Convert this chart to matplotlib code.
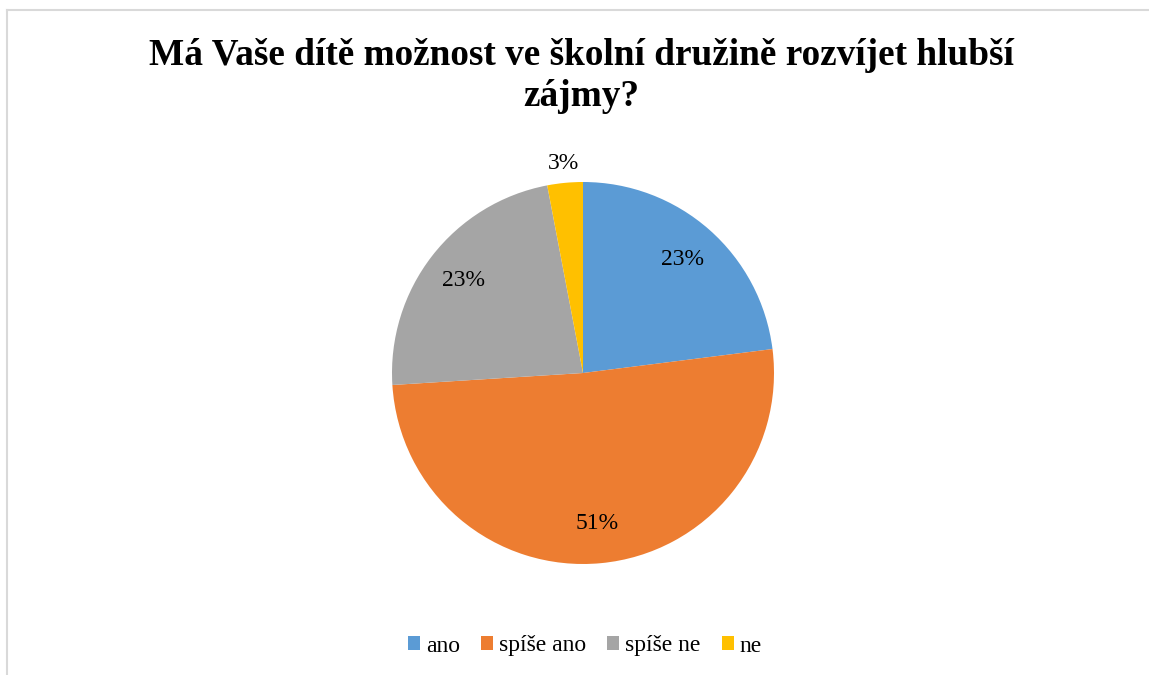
import numpy as np
import matplotlib.pyplot as plt
from matplotlib.lines import Line2D

# data
kategorie = ["ano", "spíše ano", "spíše ne", "ne"]
podily = [23, 51, 23, 3]
barvy = ["#5B9BD5", "#ED7D31", "#A5A5A5", "#FFC000"]
titulek = "Má Vaše dítě možnost ve školní družině rozvíjet hlubší\nzájmy?"

plt.rcParams['font.family'] = ['Liberation Serif', 'DejaVu Serif']

fig = plt.figure(figsize=(11.49, 6.75), dpi=100)

# light frame (top and left edges visible in the reference)
fig.add_artist(Line2D([7 / 1149, 7 / 1149], [0, 1 - 10 / 675], color="#D9D9D9", lw=1.5))
fig.add_artist(Line2D([7 / 1149, 1], [1 - 10 / 675, 1 - 10 / 675], color="#D9D9D9", lw=1.5))

fig.text(581 / 1149, 1 - 76 / 675, titulek, ha="center", va="center",
         fontsize=26.8, fontweight="bold", linespacing=1.2)

ax = fig.add_axes([392 / 1149, 111 / 675, 382 / 1149, 382 / 675])
wedges, texty, pct = ax.pie(podily, colors=barvy, startangle=90, counterclock=False,
                            autopct=lambda p: f"{p:.0f}%", pctdistance=0.79,
                            textprops={"fontsize": 17})
ax.set_xlim(-1, 1)
ax.set_ylim(-1, 1)
ax.set_aspect("equal")

# small slice label goes outside
w = wedges[3]
uhel = np.deg2rad((w.theta1 + w.theta2) / 2)
pct[3].set_position((1.1 * np.cos(uhel), 1.1 * np.sin(uhel)))

fig.legend(wedges, kategorie, loc="center", bbox_to_anchor=(585 / 1149, 1 - 646 / 675),
           ncol=4, frameon=False, fontsize=17, handlelength=0.5, handleheight=0.5,
           handletextpad=0.25, columnspacing=0.9)

fig.savefig("out.png", dpi=100)
